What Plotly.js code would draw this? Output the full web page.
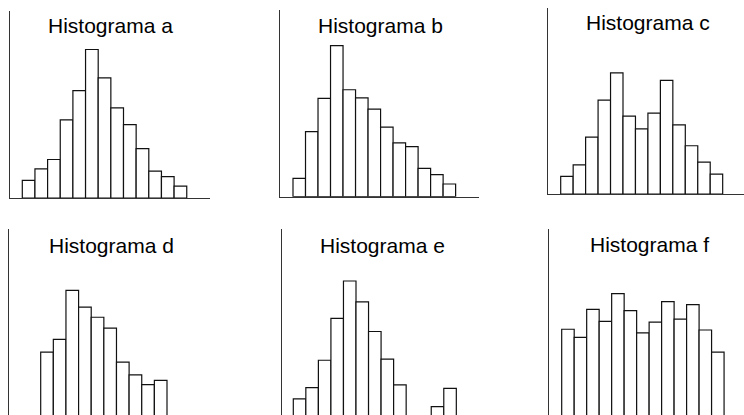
<!DOCTYPE html>
<html>
<head>
<meta charset="utf-8">
<script src="https://cdn.plot.ly/plotly-3.0.1.min.js"></script>
<style>html,body{margin:0;padding:0;background:#fff;overflow:hidden;}#chart{width:744px;height:422px;}</style>
</head>
<body>
<div id="chart"></div>
<script>
// Panel titles
const titles = ["Histograma a", "Histograma b", "Histograma c", "Histograma d", "Histograma e", "Histograma f"];

// Bar heights (frequency units)
const histA = [4.7, 7.8, 10.3, 20.9, 28.7, 39.7, 32.1, 24.1, 19.6, 13.2, 7.2, 5.7, 3.2];
const histB = [4.9, 17.4, 26.3, 40.4, 28.6, 26.4, 23.4, 18.6, 14.4, 13.4, 7.6, 5.9, 3.4];
const histC = [4.7, 7.8, 15.2, 25.1, 32.4, 20.8, 17.4, 21.6, 30.4, 18.5, 12.9, 8.5, 5.3];
const histD = [17.1, 20.5, 33.6, 29.1, 26.4, 23.5, 14.4, 11.0, 8.4, 9.5];
const histE = [4.6, 7.6, 14.9, 26.1, 36.1, 30.5, 22.6, 15.2, 8.3, 0, 0, 2.5, 7.4];
const histF = [23.2, 21.0, 28.5, 25.3, 32.7, 28.2, 22.2, 25.1, 30.6, 25.9, 29.8, 23.0, 17.1];

const series = [histA, histB, histC, histD, histE, histF];

// Layout geometry (pixels); the figure is slightly taller than the window so the
// bottom row's baseline falls just below the visible edge, as in the reference.
const W = 744, H = 422, PX = 3.74;
const geo = [
  {axL: 10,    axR: 210, bar0: 22.3,  bw: 12.65, top: 11,  base: 198,  showX: true,  tx: 110,   ty: 26},
  {axL: 280,   axR: 479, bar0: 293,   bw: 12.51, top: 10,  base: 196.7,showX: true,  tx: 380,   ty: 26},
  {axL: 548.3, axR: 744, bar0: 560.7, bw: 12.46, top: 8.3, base: 194,  showX: true,  tx: 648.3, ty: 23},
  {axL: 9.3,   axR: 210, bar0: 40.7,  bw: 12.63, top: 229, base: 416,  showX: false, tx: 111,   ty: 245},
  {axL: 281.7, axR: 479, bar0: 293.3, bw: 12.54, top: 229, base: 416,  showX: false, tx: 382,   ty: 245},
  {axL: 549,   axR: 744, bar0: 561.7, bw: 12.49, top: 229, base: 416,  showX: false, tx: 649,   ty: 244}
];

const traces = [];
const layout = {
  width: W, height: H,
  margin: {l: 0, r: 0, t: 0, b: 0},
  paper_bgcolor: '#ffffff', plot_bgcolor: 'rgba(0,0,0,0)',
  showlegend: false, bargap: 0,
  annotations: []
};

series.forEach((vals, i) => {
  const g = geo[i];
  const n = i + 1;
  const xa = n === 1 ? 'x' : 'x' + n;
  const ya = n === 1 ? 'y' : 'y' + n;
  traces.push({
    type: 'bar',
    x: vals.map((_, k) => k + 0.5),
    y: vals,
    width: 1,
    xaxis: xa, yaxis: ya,
    marker: {color: '#ffffff', line: {color: '#111111', width: 1.2}},
    hoverinfo: 'skip'
  });
  const xr = [(g.axL - g.bar0) / g.bw, (g.axR - g.bar0) / g.bw];
  layout['xaxis' + (n === 1 ? '' : n)] = {
    domain: [g.axL / W, Math.min(g.axR / W, 1)],
    range: xr, anchor: ya,
    showline: g.showX, linecolor: '#333', linewidth: 1,
    showgrid: false, zeroline: false, showticklabels: false, ticks: '', fixedrange: true
  };
  layout['yaxis' + (n === 1 ? '' : n)] = {
    domain: [(H - g.base) / H, (H - g.top) / H],
    range: [0, (g.base - g.top) / PX], anchor: xa,
    showline: true, linecolor: '#333', linewidth: 1,
    showgrid: false, zeroline: false, showticklabels: false, ticks: '', fixedrange: true
  };
  layout.annotations.push({
    text: titles[i], xref: 'paper', yref: 'paper',
    x: g.tx / W, y: (H - g.ty) / H, xanchor: 'center', yanchor: 'middle',
    showarrow: false,
    font: {family: 'Liberation Sans, Arial, sans-serif', size: 21, color: '#000000'}
  });
});

Plotly.newPlot('chart', traces, layout, {staticPlot: true, displayModeBar: false});
</script>
</body>
</html>
